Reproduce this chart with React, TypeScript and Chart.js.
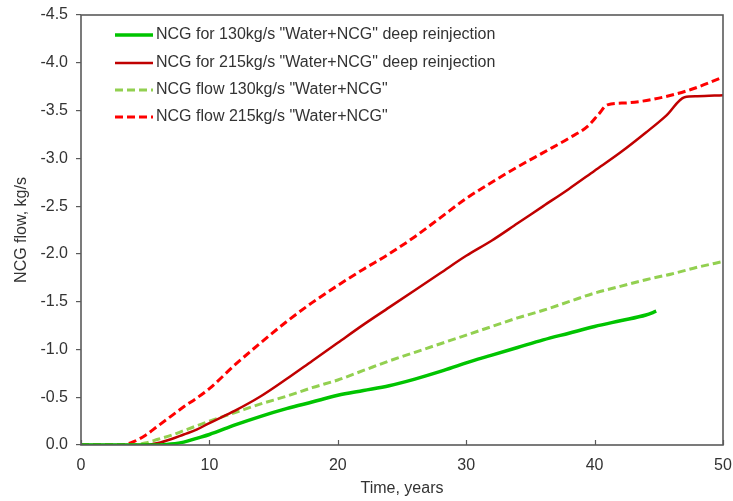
import React, { useEffect, useRef } from "react";
import { Chart, registerables } from "chart.js";

Chart.register(...registerables);

// ---- Data ----
const yearsDeep130 = [0, 6, 7, 8, 9, 10, 12, 14, 16, 18, 20, 22, 24, 26, 28, 30, 32, 34, 36, 38, 40, 42, 44, 44.8];
const deep130 = [0, 0, -0.01, -0.03, -0.07, -0.11, -0.21, -0.3, -0.38, -0.45, -0.52, -0.57, -0.62, -0.69, -0.77, -0.86, -0.94, -1.02, -1.1, -1.17, -1.24, -1.3, -1.36, -1.4];

const yearsDeep215 = [0, 5, 6, 7, 8, 9, 10, 12, 14, 16, 18, 20, 22, 24, 26, 28, 30, 32, 34, 36, 38, 40, 42, 44, 45.6, 47, 48, 50];
const deep215 = [0, 0, -0.02, -0.06, -0.11, -0.16, -0.23, -0.36, -0.51, -0.69, -0.88, -1.07, -1.26, -1.44, -1.62, -1.8, -1.98, -2.14, -2.32, -2.5, -2.68, -2.87, -3.06, -3.27, -3.45, -3.64, -3.65, -3.66];

const yearsFlow130 = [0, 4, 5, 6, 7, 8, 9, 10, 12, 14, 16, 18, 20, 22, 24, 26, 28, 30, 32, 34, 36, 38, 40, 42, 44, 46, 48, 50];
const flow130 = [0, 0, -0.02, -0.06, -0.1, -0.15, -0.2, -0.25, -0.34, -0.43, -0.51, -0.6, -0.68, -0.78, -0.88, -0.97, -1.06, -1.15, -1.24, -1.33, -1.41, -1.5, -1.59, -1.66, -1.73, -1.79, -1.86, -1.92];

const yearsFlow215 = [0, 3, 4, 5, 6, 7, 8, 9, 10, 12, 14, 16, 18, 20, 22, 24, 26, 28, 30, 32, 34, 36, 38, 39.5, 40.3, 41, 42.5, 45, 47.5, 50];
const flow215 = [0, 0, -0.03, -0.1, -0.2, -0.3, -0.4, -0.49, -0.59, -0.84, -1.07, -1.29, -1.49, -1.67, -1.84, -2.0, -2.18, -2.38, -2.58, -2.75, -2.91, -3.06, -3.21, -3.34, -3.46, -3.56, -3.58, -3.63, -3.72, -3.85];

const seriesLabels = [
  'NCG for 130kg/s "Water+NCG" deep reinjection',
  'NCG for 215kg/s "Water+NCG" deep reinjection',
  'NCG flow 130kg/s "Water+NCG"',
  'NCG flow 215kg/s "Water+NCG"',
];

const xTicks = [0, 10, 20, 30, 40, 50];
const yTicks = [0, -0.5, -1.0, -1.5, -2.0, -2.5, -3.0, -3.5, -4.0, -4.5];

const zip = (xs: number[], ys: number[]) => xs.map((x, i) => ({ x, y: ys[i] }));

const FONT = "'Liberation Sans', Arial, sans-serif";
const TEXT = "#333333";
const AXIS = "#5a5a5a";

const framePlugin = {
  id: "frame",
  afterDraw(chart: any) {
    const { ctx, chartArea } = chart;
    const { left, right, top, bottom } = chartArea;
    ctx.save();
    const xs = chart.scales.x;
    ctx.strokeStyle = AXIS;
    ctx.lineWidth = 1.2;
    ctx.setLineDash([]);
    xTicks.forEach((t) => {
      const px = Math.round(xs.getPixelForValue(t)) + 0.5;
      ctx.beginPath();
      ctx.moveTo(px, bottom);
      ctx.lineTo(px, bottom - 5);
      ctx.stroke();
    });
    ctx.lineWidth = 1.6;
    ctx.strokeRect(left, top, right - left, bottom - top);
    const rows = [35, 63, 90, 117];
    chart.data.datasets.forEach((ds: any, i: number) => {
      const y = rows[i];
      ctx.beginPath();
      ctx.strokeStyle = ds.borderColor;
      ctx.lineWidth = ds.borderWidth;
      ctx.setLineDash(ds.borderDash || []);
      ctx.moveTo(115, y);
      ctx.lineTo(153, y);
      ctx.stroke();
      ctx.setLineDash([]);
      ctx.fillStyle = TEXT;
      ctx.font = `16px ${FONT}`;
      ctx.textBaseline = "middle";
      ctx.textAlign = "left";
      ctx.fillText(ds.label, 156, y);
    });
    ctx.restore();
  },
};

export default function App() {
  const ref = useRef<HTMLCanvasElement | null>(null);

  useEffect(() => {
    document.body.style.margin = "0";
    if (!ref.current) return;
    const chart = new Chart(ref.current, {
      type: "line",
      data: {
        datasets: [
          {
            label: seriesLabels[0],
            data: zip(yearsDeep130, deep130),
            borderColor: "#00c400",
            borderWidth: 3.5,
            pointRadius: 0,
            cubicInterpolationMode: "monotone",
            fill: false,
          },
          {
            label: seriesLabels[1],
            data: zip(yearsDeep215, deep215),
            borderColor: "#c00000",
            borderWidth: 2.5,
            pointRadius: 0,
            cubicInterpolationMode: "monotone",
            fill: false,
          },
          {
            label: seriesLabels[2],
            data: zip(yearsFlow130, flow130),
            borderColor: "#92d050",
            borderWidth: 3,
            borderDash: [8, 4],
            pointRadius: 0,
            cubicInterpolationMode: "monotone",
            fill: false,
          },
          {
            label: seriesLabels[3],
            data: zip(yearsFlow215, flow215),
            borderColor: "#ff0000",
            borderWidth: 3,
            borderDash: [8, 4],
            pointRadius: 0,
            cubicInterpolationMode: "monotone",
            fill: false,
          },
        ],
      } as any,
      options: {
        animation: false,
        responsive: false,
        layout: { padding: { top: 15, right: 10, left: 0, bottom: 0 } },
        plugins: { legend: { display: false }, tooltip: { enabled: false } },
        scales: {
          x: {
            type: "linear",
            min: 0,
            max: 50,
            afterBuildTicks: (s: any) => {
              s.ticks = xTicks.map((v) => ({ value: v }));
            },
            afterFit: (s: any) => {
              s.height = 56;
              s.paddingLeft = 0;
              s.paddingRight = 0;
            },
            grid: { display: false, drawTicks: false },
            border: { display: false },
            ticks: {
              padding: 11,
              color: TEXT,
              font: { family: FONT, size: 16 },
              maxRotation: 0,
            },
            title: {
              display: true,
              text: "Time, years",
              color: TEXT,
              font: { family: FONT, size: 16 },
              padding: { top: 0, bottom: 3 },
            },
          },
          y: {
            type: "linear",
            min: -4.5,
            max: 0,
            reverse: true,
            afterBuildTicks: (s: any) => {
              s.ticks = yTicks.map((v) => ({ value: v }));
            },
            afterFit: (s: any) => {
              s.width = 81;
              s.paddingTop = 0;
              s.paddingBottom = 0;
            },
            grid: {
              drawOnChartArea: false,
              drawTicks: true,
              tickLength: 5,
              color: AXIS,
              lineWidth: 1.2,
            },
            border: { display: false },
            ticks: {
              padding: 8,
              color: TEXT,
              font: { family: FONT, size: 16 },
              callback: (v: any) => Number(v).toFixed(1),
            },
            title: {
              display: true,
              text: "NCG flow, kg/s",
              color: TEXT,
              font: { family: FONT, size: 16 },
              padding: { top: 12, bottom: 0 },
            },
          },
        },
      } as any,
      plugins: [framePlugin],
    });
    return () => chart.destroy();
  }, []);

  return (
    <div style={{ width: 733, height: 501 }}>
      <canvas ref={ref} width={733} height={501} style={{ display: "block" }} />
    </div>
  );
}
